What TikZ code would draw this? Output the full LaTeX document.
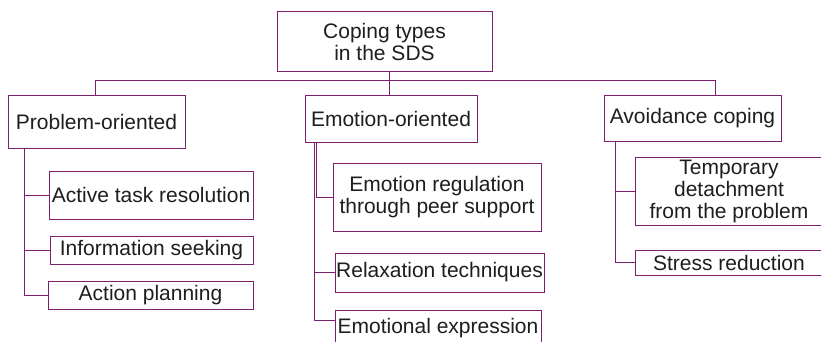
\documentclass[tikz,border=0pt]{standalone}
\usepackage{fontspec}
\setmainfont{Liberation Sans}
\definecolor{plum}{RGB}{125,30,110}
\definecolor{ink}{RGB}{30,30,30}
\begin{document}
\begin{tikzpicture}[x=1pt,y=-1pt,
  box/.style={draw=plum, line width=1pt, fill=white, inner sep=0pt, align=center,
    text=ink, font=\fontsize{21}{22}\selectfont},
  link/.style={draw=plum, line width=1pt}]
\clip (0,0) rectangle (821,342);
\useasboundingbox (0,0) rectangle (821,342);
\fill[white] (0,0) rectangle (821,342);

% top level
\node[box, minimum width=215pt, minimum height=60pt] (root) at (384.5,42) {Coping types\\in the SDS};
\node[box, minimum width=177pt, minimum height=52pt] (prob) at (96.5,122) {Problem-oriented};
\node[box, minimum width=172pt, minimum height=46pt] (emo) at (391,119) {Emotion-oriented};
\node[box, minimum width=177pt, minimum height=45pt] (avo) at (692.5,118.5) {Avoidance coping};

% problem-oriented strategies
\node[box, minimum width=204pt, minimum height=48pt] (act) at (151,195) {Active task resolution};
\node[box, minimum width=203pt, minimum height=28pt] (info) at (151.5,250) {Information seeking};
\node[box, minimum width=205pt, minimum height=28pt] (plan) at (150.5,295) {Action planning};

% emotion-oriented strategies
\node[box, minimum width=208pt, minimum height=68pt] (reg) at (437,197) {Emotion regulation\\through peer support};
\node[box, minimum width=209pt, minimum height=39pt] (relax) at (439.5,272.5) {Relaxation techniques};
\node[box, minimum width=206pt, minimum height=36pt] (expr) at (438,328) {Emotional expression};

% avoidance strategies
\node[box, minimum width=188pt, minimum height=68pt] (temp) at (729,191) {Temporary\\detachment\\from the problem};
\node[box, minimum width=188pt, minimum height=25pt] (stress) at (729,262.5) {Stress reduction};

% tree connectors
\coordinate (bus) at (389,81);
\draw[link] (root.south -| bus) -- (bus);
\draw[link] (bus) -| ([xshift=-1.5pt]prob.north);
\draw[link] (bus) -| ([xshift=22.5pt]avo.north);
\draw[link] (bus) -- ([xshift=-2pt]emo.north);

\draw[link] ([xshift=17pt]prob.south west) |- (act.west);
\draw[link] ([xshift=17pt]prob.south west) |- (info.west);
\draw[link] ([xshift=17pt]prob.south west) |- (plan.west);

\draw[link] ([xshift=12pt]emo.south west) |- (reg.west);
\draw[link] ([xshift=10pt]emo.south west) |- (relax.west);
\draw[link] ([xshift=10pt]emo.south west) |- ([yshift=8pt]expr.west);

\draw[link] ([xshift=12pt]avo.south west) |- (temp.west);
\draw[link] ([xshift=12pt]avo.south west) |- (stress.west);
\end{tikzpicture}
\end{document}
